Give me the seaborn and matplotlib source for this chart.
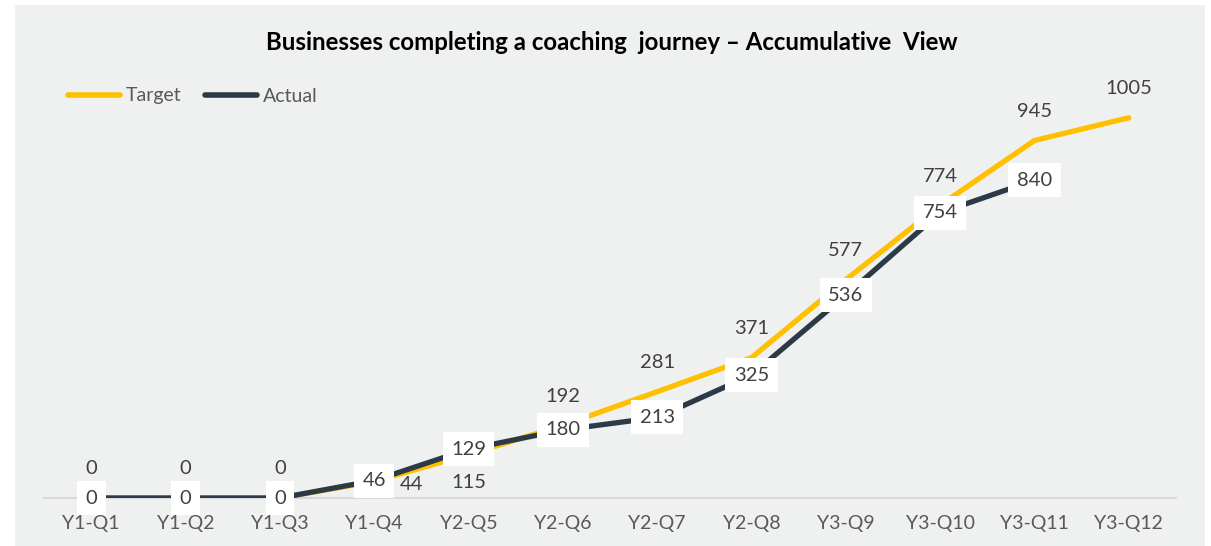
import matplotlib
matplotlib.use("Agg")
import matplotlib.pyplot as plt
from matplotlib.patches import Rectangle
import seaborn as sns

# chart data
quarters = ["Y1-Q1", "Y1-Q2", "Y1-Q3", "Y1-Q4", "Y2-Q5", "Y2-Q6",
            "Y2-Q7", "Y2-Q8", "Y3-Q9", "Y3-Q10", "Y3-Q11", "Y3-Q12"]
target = [0, 0, 0, 44, 115, 192, 281, 371, 577, 774, 945, 1005]
actual = [0, 0, 0, 46, 129, 180, 213, 325, 536, 754, 840]

TITLE = "Businesses completing a coaching  journey \u2013 Accumulative  View"
BG = "#eff0f0"
GOLD = "#ffc000"
NAVY = "#2b3a46"
TXT = "#404040"

sns.set_style("white")
plt.rcParams["font.family"] = ["Lato", "DejaVu Sans"]

fig = plt.figure(figsize=(12.11, 5.46), dpi=100, facecolor="white")
fig.patches.append(Rectangle((15 / 1211, 0), 1190 / 1211, 541 / 546,
                             transform=fig.transFigure, facecolor=BG,
                             edgecolor="none", zorder=-10))
ax = fig.add_axes([44 / 1211, 48 / 546, 1132 / 1211, 454 / 546])
ax.set_facecolor(BG)

sns.lineplot(x=quarters, y=target, ax=ax, color=GOLD, lw=3.8, sort=False,
             label="Target", solid_capstyle="round", zorder=3)
sns.lineplot(x=quarters[:len(actual)], y=actual, ax=ax, color=NAVY, lw=3.8,
             sort=False, label="Actual", solid_capstyle="round", zorder=4)

ax.set_xlim(-0.5, len(quarters) - 0.5)
ax.set_ylim(0, 1200)

# target labels (plain text, mostly above the point)
for i, v in enumerate(target):
    off = (0, 21)
    if quarters[i] == "Y1-Q4":
        off = (27, -2)
    elif quarters[i] == "Y2-Q5":
        off = (0, -20)
    ax.annotate(str(v), (i, v), xytext=off, textcoords="offset points",
                ha="center", va="center", fontsize=14.5, color=TXT, zorder=5,
                annotation_clip=False)

# actual labels (in white boxes on the point)
for i, v in enumerate(actual):
    ax.annotate(str(v), (i, v), xytext=(0, 0), textcoords="offset points",
                ha="center", va="center", fontsize=14.5, color=TXT, zorder=6,
                bbox=dict(boxstyle="square,pad=0.42", fc="white", ec="none"),
                annotation_clip=False)

sns.despine(ax=ax, left=True, top=True, right=True)
ax.spines["bottom"].set_color("#d9d9d9")
ax.spines["bottom"].set_linewidth(1.5)
ax.set_yticks([])
ax.tick_params(axis="x", length=0, labelsize=14, labelcolor="#595959", pad=12)

fig.text(612 / 1211, 1 - 42 / 546, TITLE, fontsize=17.3, fontweight="bold",
         color="black", ha="center", va="center")

leg = ax.legend(loc="center left", bbox_to_anchor=(50 / 1211, 1 - 96 / 546),
                bbox_transform=fig.transFigure, ncol=2, frameon=False,
                fontsize=14, handlelength=2.7, handletextpad=0.3,
                columnspacing=1.2, labelcolor="#595959")
for h in leg.get_lines():
    h.set_linewidth(4)
    h.set_solid_capstyle("round")

fig.savefig("out.png", dpi=100, facecolor="white")
